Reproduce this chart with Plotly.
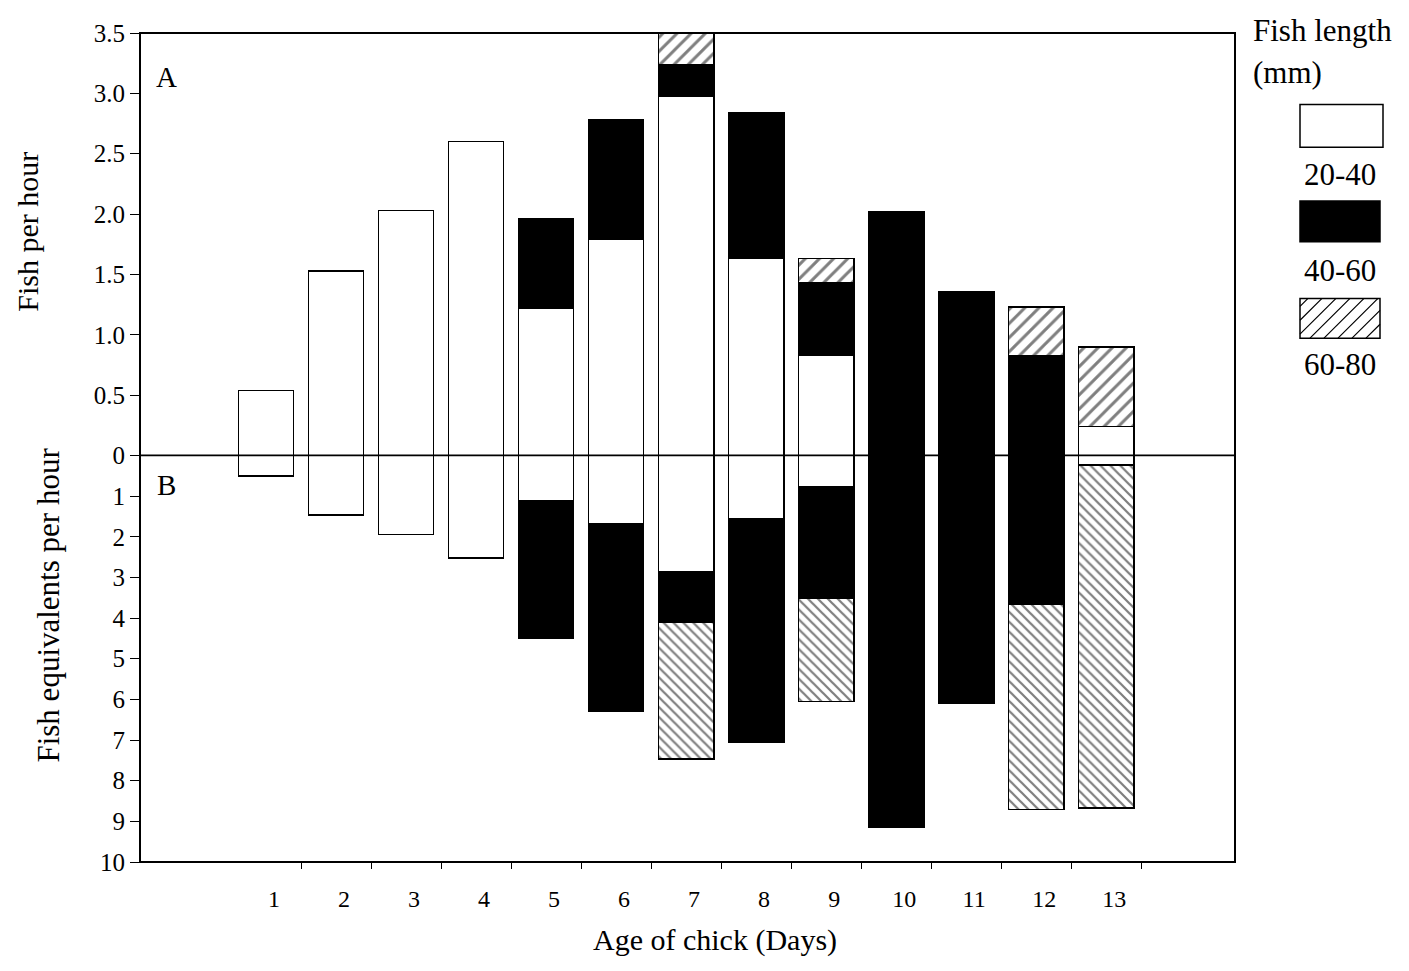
import plotly.graph_objects as go

# ---------------- data ----------------
days = list(range(1, 14))
day_labels = [str(d) for d in days]

# Panel A: fish per hour, by fish length class
fph_20_40 = [0.54, 1.53, 2.03, 2.60, 1.22, 1.79, 2.98, 1.63, 0.83, 0, 0, 0, 0.24]
fph_40_60 = [0, 0, 0, 0, 0.74, 0.99, 0.26, 1.21, 0.60, 2.02, 1.36, 0.83, 0]
fph_60_80 = [0, 0, 0, 0, 0, 0, 0.26, 0, 0.20, 0, 0, 0.40, 0.66]

# Panel B: fish equivalents per hour
feq_20_40 = [0.50, 1.47, 1.95, 2.52, 1.12, 1.68, 2.87, 1.55, 0.77, 0, 0, 0, 0.23]
feq_40_60 = [0, 0, 0, 0, 3.38, 4.61, 1.23, 5.50, 2.75, 9.14, 6.10, 3.67, 0]
feq_60_80 = [0, 0, 0, 0, 0, 0, 3.37, 0, 2.53, 0, 0, 5.04, 8.44]

a_ticks = [0.5, 1.0, 1.5, 2.0, 2.5, 3.0, 3.5]
a_ticktext = ["0.5", "1.0", "1.5", "2.0", "2.5", "3.0", "3.5"]
b_ticks = list(range(0, 11))
b_ticktext = [str(v) for v in b_ticks]
legend_labels = ["20-40", "40-60", "60-80"]

# ---------------- geometry (page pixels; body has 8px margin) ----------------
OFF = 8
W, H = 1409 - OFF, 971 - OFF
PL, PT, PR, PB = 140, 28, 1235, 862          # plot area in page pixels
L, T = PL - OFF, PT - OFF
R, B = W - (PR - OFF), H - (PB - OFF)
PW, PH = W - L - R, H - T - B
split = 409 / 834
FONT = "Liberation Serif, Times New Roman, serif"


def px(x, y):
    return (x - OFF - L) / PW, (H - B - (y - OFF)) / PH


def nz(v):
    return [None if a == 0 else a for a in v]


edge = dict(color="black", width=1.5)
bw = 0.79

fig = go.Figure()
# Panel A
fig.add_bar(x=days, y=nz(fph_20_40), xaxis="x", yaxis="y", width=bw,
            marker=dict(color="white", line=edge), name=legend_labels[0])
fig.add_bar(x=days, y=nz(fph_40_60), xaxis="x", yaxis="y", width=bw,
            marker=dict(color="black", line=edge), name=legend_labels[1])
fig.add_bar(x=days, y=nz(fph_60_80), xaxis="x", yaxis="y", width=bw,
            marker=dict(color="white", line=edge,
                        pattern=dict(shape="/", fgcolor="black", bgcolor="white",
                                     size=10, solidity=0.3)),
            name=legend_labels[2])
# Panel B
fig.add_bar(x=days, y=nz(feq_20_40), xaxis="x", yaxis="y2", width=bw,
            marker=dict(color="white", line=edge), name=legend_labels[0])
fig.add_bar(x=days, y=nz(feq_40_60), xaxis="x", yaxis="y2", width=bw,
            marker=dict(color="black", line=edge), name=legend_labels[1])
fig.add_bar(x=days, y=nz(feq_60_80), xaxis="x", yaxis="y2", width=bw,
            marker=dict(color="white", line=edge,
                        pattern=dict(shape="\\", fgcolor="black", bgcolor="white",
                                     size=7, solidity=0.32)),
            name=legend_labels[2])

ytickfont = dict(family=FONT, size=25, color="black")
xtickfont = dict(family=FONT, size=24, color="black")

fig.update_layout(
    width=W, height=H,
    margin=dict(l=L, r=R, t=T, b=B),
    paper_bgcolor="white", plot_bgcolor="white",
    barmode="stack", showlegend=False,
    font=dict(family=FONT, color="black"),
    xaxis=dict(domain=[0, 1], range=[-0.8, 14.84], anchor="y2",
               tickmode="array", tickvals=days, ticktext=day_labels,
               ticks="", showgrid=False, zeroline=False, showline=False,
               tickfont=xtickfont, ticklabelshift=8, ticklabelstandoff=20,
               minor=dict(tickmode="array", tickvals=[d + 0.5 for d in days],
                          ticks="outside", ticklen=6, tickwidth=1.2,
                          tickcolor="black", showgrid=False)),
    yaxis=dict(domain=[split, 1], range=[0, 3.5], anchor="x",
               tickmode="array", tickvals=a_ticks, ticktext=a_ticktext,
               ticks="outside", ticklen=9, tickwidth=1.2, tickcolor="black",
               showgrid=False, zeroline=False, showline=False,
               tickfont=ytickfont),
    yaxis2=dict(domain=[0, split], range=[10, 0], anchor="x",
                tickmode="array", tickvals=b_ticks, ticktext=b_ticktext,
                ticks="outside", ticklen=9, tickwidth=1.2, tickcolor="black",
                showgrid=False, zeroline=False, showline=False,
                tickfont=ytickfont),
)

shapes = [
    dict(type="rect", xref="paper", yref="paper", x0=0, x1=1, y0=0, y1=1,
         line=dict(color="black", width=2), layer="above"),
    dict(type="line", xref="paper", yref="paper", x0=0, x1=1, y0=split, y1=split,
         line=dict(color="black", width=1.8), layer="above"),
]


def box(x0, y0, x1, y1, fill):
    a0, b0 = px(x0, y1)
    a1, b1 = px(x1, y0)
    return dict(type="rect", xref="paper", yref="paper", x0=a0, x1=a1, y0=b0, y1=b1,
                fillcolor=fill, line=dict(color="black", width=1.5))


shapes.append(box(1300, 100, 1383, 143, "white"))
shapes.append(box(1300, 197, 1380, 238, "black"))
shapes.append(box(1300, 295, 1380, 335, "white"))

# hatch lines in the 60-80 legend box
hx0, hy0, hx1, hy1 = 1300, 295, 1380, 335
segs = []
c = hx0 + hy0 + 8
while c < hx1 + hy1:
    xa = max(hx0, c - hy1)
    xb = min(hx1, c - hy0)
    if xb > xa:
        p0 = px(xa, c - xa)
        p1 = px(xb, c - xb)
        segs.append(f"M {p0[0]:.5f} {p0[1]:.5f} L {p1[0]:.5f} {p1[1]:.5f}")
    c += 14
shapes.append(dict(type="path", xref="paper", yref="paper", path=" ".join(segs),
                   line=dict(color="black", width=1.2)))

fig.update_layout(shapes=shapes)

ann = []


def text(s, x, y, size, xanchor="center", angle=0):
    ax, ay = px(x, y)
    ann.append(dict(text=s, x=ax, y=ay, xref="paper", yref="paper",
                    xanchor=xanchor, yanchor="middle", showarrow=False,
                    textangle=angle, font=dict(family=FONT, size=size, color="black")))


text("A", 166, 72, 29)
text("B", 166, 483, 29)
text("Fish per hour", 28, 228, 30, angle=-90)
text("Fish equivalents per hour", 49, 604, 31, angle=-90)
text("Age of chick (Days)", 715, 940, 30)
text("Fish length", 1251, 25, 31, xanchor="left")
text("(mm)", 1251, 68, 31, xanchor="left")
text(legend_labels[0], 1340, 170, 31)
text(legend_labels[1], 1340, 267, 31)
text(legend_labels[2], 1340, 362, 31)

fig.update_layout(annotations=ann)

fig.write_html("out.html")
